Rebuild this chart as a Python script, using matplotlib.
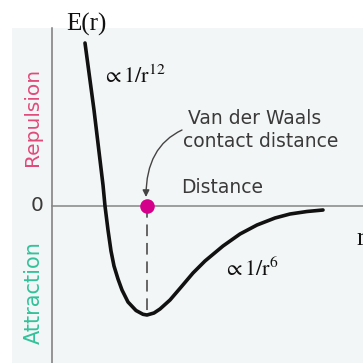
import matplotlib
matplotlib.use("Agg")
import matplotlib.pyplot as plt
from matplotlib.patches import FancyArrowPatch, Rectangle

plt.rcParams['mathtext.fontset'] = 'stix'

# potential energy curve, read point by point
r_vals = [0.33, 0.42, 0.48, 0.51, 0.53, 0.56, 0.59, 0.62, 0.66, 0.70, 0.76, 0.84, 0.91, 0.95,
          1.02, 1.08, 1.18, 1.30, 1.41, 1.53, 1.71, 1.88, 2.05, 2.23, 2.38, 2.55, 2.71]
E_vals = [1.63, 0.96, 0.46, 0.21, 0.00, -0.24, -0.45, -0.60, -0.73, -0.84, -0.96, -1.045, -1.083, -1.09,
          -1.07, -1.03, -0.94, -0.80, -0.67, -0.55, -0.40, -0.28, -0.19, -0.12, -0.08, -0.055, -0.04]

# van der Waals contact distance (minimum of the well)
r_contact = 0.95
E_min = -1.08

label_color = '#3a3a3a'

fig = plt.figure(figsize=(3.63, 3.63), dpi=100)
ax = fig.add_axes([0, 0, 1, 1])
ax.set_xlim(-0.52, 3.11)
ax.set_ylim(-1.57, 2.06)
ax.axis('off')

# page tint behind the plot
ax.add_patch(Rectangle((-0.40, -1.60), 3.6, 3.38, facecolor='#f3f6f7', edgecolor='none', zorder=0))

# axes lines
ax.plot([0, 0], [-1.60, 1.78], color='#7a7a7a', lw=1.1, zorder=1)
ax.plot([0, 3.2], [0, 0], color='#858585', lw=1.1, zorder=1)

# dashed drop from the contact point to the well
ax.plot([r_contact, r_contact], [0, E_min], color='#666666', lw=1.4,
        dashes=(6, 3.5), zorder=2)

# the curve
ax.plot(r_vals, E_vals, color='#111111', lw=2.6, solid_capstyle='round',
        solid_joinstyle='round', zorder=3)

# contact point
ax.scatter([r_contact], [0], s=110, color='#d4008c', zorder=4, linewidths=0)

# curved pointer from the label
arrow = FancyArrowPatch((1.30, 0.76), (0.94, 0.09),
                        connectionstyle='angle3,angleA=25,angleB=90',
                        arrowstyle='-|>,head_length=4,head_width=2',
                        color='#444444', lw=1.0, shrinkA=0, shrinkB=0, zorder=3)
ax.add_patch(arrow)

# labels
ax.text(0.34, 1.82, 'E(r)', family='Liberation Serif', fontsize=18,
        ha='center', va='center', color='#111111')
ax.text(3.04, -0.39, 'r', family='Liberation Serif', fontsize=18,
        ha='left', va='baseline', color='#111111')
ax.text(0.50, 1.23, r'$\propto 1/\mathrm{r}^{12}$', fontsize=16,
        ha='left', va='baseline', color='#111111')
ax.text(1.71, -0.70, r'$\propto 1/\mathrm{r}^{6}$', fontsize=16,
        ha='left', va='baseline', color='#111111')

ax.text(1.36, 0.82, 'Van der Waals', fontsize=13.5, ha='left', va='baseline', color=label_color)
ax.text(1.31, 0.59, 'contact distance', fontsize=13.5, ha='left', va='baseline', color=label_color)
ax.text(1.29, 0.13, 'Distance', fontsize=13.5, ha='left', va='baseline', color=label_color)

ax.text(-0.15, 0.0, '0', fontsize=14.5, ha='center', va='center', color=label_color)
ax.text(-0.19, 0.89, 'Repulsion', fontsize=14.5, rotation=90,
        ha='center', va='center', color='#e04a7a')
ax.text(-0.18, -0.87, 'Attraction', fontsize=15, rotation=90,
        ha='center', va='center', color='#33c29a')

fig.savefig('out.png', dpi=100)
